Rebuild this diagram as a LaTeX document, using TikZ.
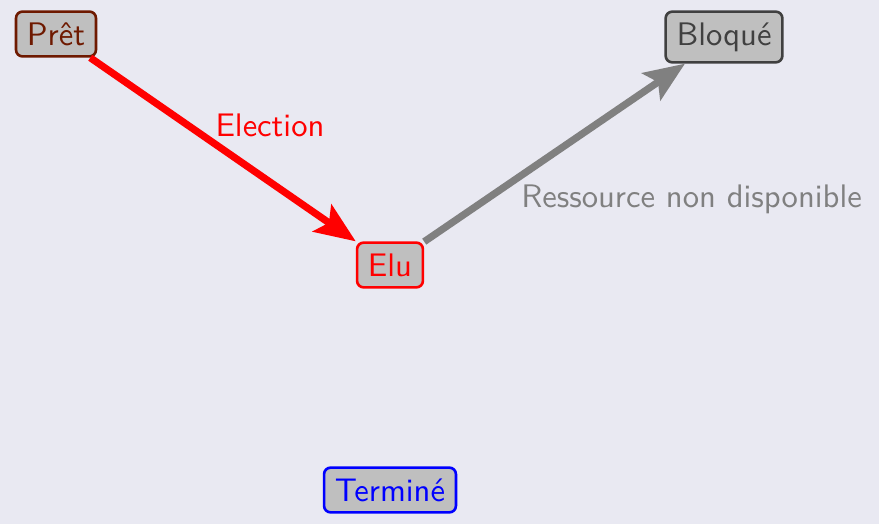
\documentclass[tikz,border=0pt]{standalone}
\usepackage{fontspec}
\usepackage{tikz}
\usetikzlibrary{arrows.meta}
\definecolor{fond}{RGB}{233,233,242}
\definecolor{brunpret}{RGB}{110,25,0}

\begin{document}
\begin{tikzpicture}[x=0.3067pt, y=-0.3067pt, font=\sffamily,
  etat/.style={draw, thick, rounded corners=2pt, fill=lightgray},
  trans/.style={-{Stealth[length=12.5pt,width=10pt,inset=2.5pt]}, line width=2.2pt}]
  \fill[fond] (0,0) rectangle (879,524);
  \useasboundingbox (0,0) rectangle (879,524);
  \node[etat, draw=brunpret, text=brunpret] (pret) at (56,34) {Prêt};
  \node[etat, draw=darkgray, text=darkgray] (bloque) at (724,37) {Bloqué};
  \node[etat, draw=red, text=red] (elu) at (390,265) {Elu};
  \node[etat, draw=blue, text=blue] (termine) at (390,490) {Terminé};
  \draw[trans, red] (pret) -- node[xshift=14.4pt, yshift=7.5pt] {Election} (elu);
  \draw[trans, gray] (elu) -- node[xshift=42pt, yshift=-14.4pt] {Ressource non disponible} (bloque);
\end{tikzpicture}
\end{document}
